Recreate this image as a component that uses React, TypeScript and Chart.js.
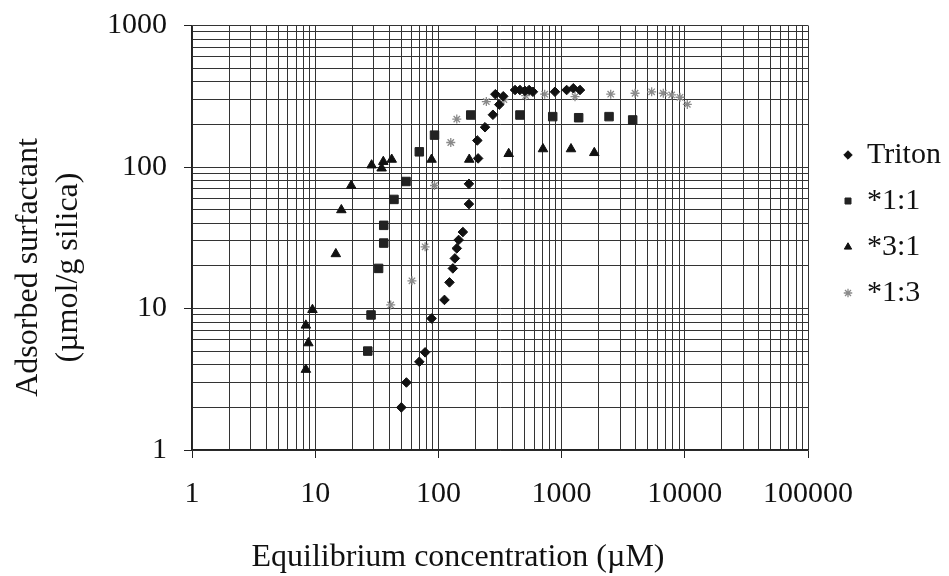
import React, { useEffect, useRef } from 'react';
import { Chart, registerables } from 'chart.js';

Chart.register(...registerables);

// ---- data ----
const tritonX = [50, 55, 70, 78, 88, 112, 123, 131, 136, 141, 146, 158, 177, 177, 210, 207, 239, 277, 312, 290, 336, 419, 459, 504, 545, 585, 883, 1099, 1245, 1410];
const tritonY = [2, 3, 4.2, 4.9, 8.5, 11.5, 15.3, 19.2, 22.6, 26.6, 30.5, 34.7, 54.7, 76, 115, 154, 191, 234, 276, 327, 316, 350, 350, 345, 350, 340, 340, 350, 360, 350];

const ratio11X = [26.7, 28.4, 32.7, 36, 36, 43.6, 54.6, 70, 93, 183, 459, 847, 1376, 2427, 3776];
const ratio11Y = [5, 9, 19.2, 29, 38.7, 59, 79, 128, 168, 233, 233, 227, 223, 227, 215];

const ratio31X = [8.4, 8.8, 8.4, 9.5, 14.7, 16.3, 19.6, 28.7, 34.6, 35.7, 41.8, 88, 178, 372, 706, 1192, 1842];
const ratio31Y = [3.7, 5.7, 7.6, 9.8, 24.3, 49.7, 73.8, 103, 98, 109, 113, 113, 113, 124, 134, 134, 126];

const ratio13X = [41, 61, 78, 93, 126, 141, 245, 340, 511, 729, 1285, 2504, 3945, 5383, 6690, 7820, 9140, 10480];
const ratio13Y = [10.6, 15.7, 27.3, 74, 149, 218, 290, 300, 319, 327, 314, 327, 332, 340, 332, 323, 311, 277];

const seriesNames = ['Triton', '*1:1', '*3:1', '*1:3'];

const xTickValues = [1, 10, 100, 1000, 10000, 100000];
const xTickLabels = ['1', '10', '100', '1000', '10000', '100000'];
const yTickValues = [1, 10, 100, 1000];
const yTickLabels = ['1', '10', '100', '1000'];

const xAxisTitle = 'Equilibrium concentration (\u00b5M)';
const yAxisTitle = ['Adsorbed surfactant', '(\u00b5mol/g silica)'];

// ---- helpers ----
const FONT = "'Liberation Serif', 'Times New Roman', serif";

function gridValues(decades: number[]) {
  const out: { value: number; major: boolean }[] = [];
  for (let d = 0; d < decades.length; d++) {
    const base = decades[d];
    if (d === decades.length - 1) {
      out.push({ value: base, major: true });
    } else {
      for (let k = 1; k <= 9; k++) out.push({ value: base * k, major: k === 1 });
    }
  }
  return out;
}

function labelFor(v: number, values: number[], labels: string[]) {
  const i = values.findIndex((t) => Math.abs(t - v) / t < 1e-6);
  return i >= 0 ? labels[i] : '';
}

const pts = (xs: number[], ys: number[]) => xs.map((x, i) => ({ x, y: ys[i] }));

const titlePlugin = {
  id: 'axisTitles',
  afterDraw(chart: any) {
    const { ctx, chartArea } = chart;
    ctx.save();
    ctx.fillStyle = '#111';
    ctx.font = `32px ${FONT}`;
    ctx.textAlign = 'center';
    ctx.textBaseline = 'alphabetic';
    // x title
    ctx.fillText(xAxisTitle, chartArea.left + 266, chartArea.bottom + 116);
    // y title (rotated)
    const cy = chartArea.top + 242;
    const baselines = [37, 77];
    yAxisTitle.forEach((line, i) => {
      ctx.save();
      ctx.translate(baselines[i], cy);
      ctx.rotate(-Math.PI / 2);
      ctx.fillText(line, 0, 0);
      ctx.restore();
    });
    ctx.restore();
  },
};

export default function App() {
  const ref = useRef<HTMLCanvasElement | null>(null);

  useEffect(() => {
    if (!ref.current) return;
    const tickFont = { family: FONT, size: 30 };
    const minorTransparent = (c: any) => (c.tick && c.tick.major ? '#222' : 'rgba(0,0,0,0)');
    const chart = new Chart(ref.current, {
      type: 'scatter',
      data: {
        datasets: [
          {
            label: seriesNames[0],
            data: pts(tritonX, tritonY),
            pointStyle: 'rectRot',
            pointRadius: 4.8,
            backgroundColor: '#111',
            borderColor: '#111',
            borderWidth: 1,
          },
          {
            label: seriesNames[1],
            data: pts(ratio11X, ratio11Y),
            pointStyle: 'rect',
            pointRadius: 6,
            backgroundColor: '#222',
            borderColor: '#222',
            borderWidth: 1,
          },
          {
            label: seriesNames[2],
            data: pts(ratio31X, ratio31Y),
            pointStyle: 'triangle',
            pointRadius: 5.5,
            backgroundColor: '#111',
            borderColor: '#111',
            borderWidth: 1,
          },
          {
            label: seriesNames[3],
            data: pts(ratio13X, ratio13Y),
            pointStyle: 'star',
            pointRadius: 4.5,
            backgroundColor: '#8a8a8a',
            borderColor: '#8a8a8a',
            borderWidth: 1.3,
          },
        ],
      },
      options: {
        animation: false,
        responsive: false,
        layout: { padding: { top: 25.5, left: 0, right: 0, bottom: 0 } },
        plugins: {
          legend: {
            position: 'right',
            align: 'start',
            maxWidth: 121,
            title: { display: true, text: '', font: { size: 10, lineHeight: 1 }, padding: { top: 88.5, bottom: 0 } },
            labels: {
              usePointStyle: true,
              boxWidth: 8,
              boxHeight: 6,
              padding: 16,
              color: '#111',
              font: { family: FONT, size: 30 },
            },
          },
          tooltip: { enabled: false },
        },
        scales: {
          x: {
            type: 'logarithmic',
            position: 'bottom',
            min: 1,
            max: 100000,
            afterBuildTicks: (s: any) => {
              s.ticks = gridValues(xTickValues);
            },
            afterFit: (s: any) => {
              s.height = 126;
            },
            ticks: {
              autoSkip: false,
              maxRotation: 0,
              minRotation: 0,
              padding: 18,
              color: '#111',
              font: tickFont,
              callback: (v: any) => labelFor(Number(v), xTickValues, xTickLabels),
            },
            grid: { color: '#333', lineWidth: 1, drawTicks: true, tickLength: 8, tickColor: minorTransparent },
            border: { color: '#222', width: 1.5 },
          },
          y: {
            type: 'logarithmic',
            position: 'left',
            min: 1,
            max: 1000,
            afterBuildTicks: (s: any) => {
              s.ticks = gridValues(yTickValues);
            },
            afterFit: (s: any) => {
              s.width = 192;
              s.paddingTop = 10;
              s.paddingBottom = 10;
            },
            ticks: {
              autoSkip: false,
              padding: 17,
              color: '#111',
              font: tickFont,
              callback: (v: any) => labelFor(Number(v), yTickValues, yTickLabels),
            },
            grid: { color: '#333', lineWidth: 1, drawTicks: true, tickLength: 8, tickColor: minorTransparent },
            border: { color: '#222', width: 1.5 },
          },
          gap: {
            type: 'linear',
            position: 'right',
            display: true,
            grid: { display: false },
            border: { display: false },
            ticks: { display: false },
            afterFit: (s: any) => {
              s.width = 20;
              s.paddingTop = 0;
              s.paddingBottom = 0;
            },
          },
        },
      },
      plugins: [titlePlugin],
    } as any);
    return () => chart.destroy();
  }, []);

  return (
    <div style={{ position: 'absolute', left: 0, top: 0, width: 949, height: 576, background: '#fff' }}>
      <canvas ref={ref} width={949} height={576} style={{ display: 'block' }} />
    </div>
  );
}
